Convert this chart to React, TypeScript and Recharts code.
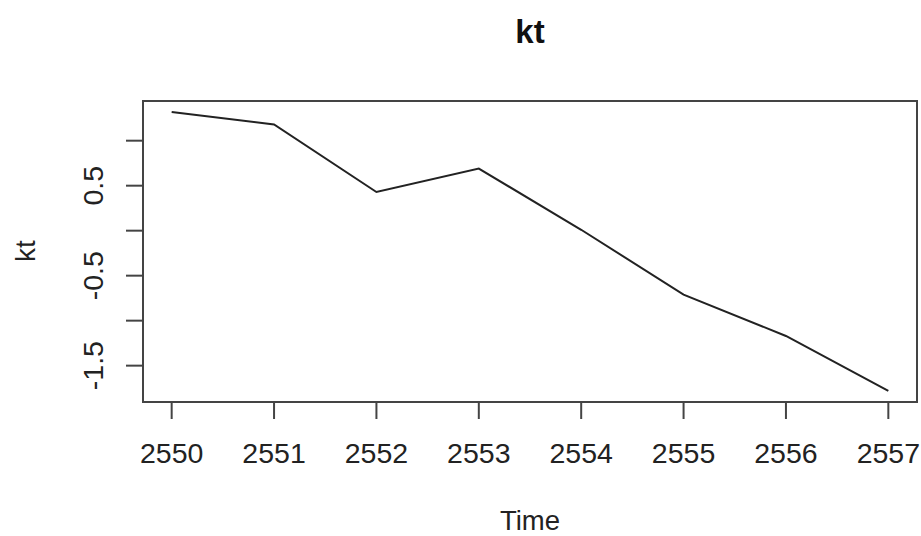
import React from 'react';
import { LineChart, Line, XAxis, YAxis, ReferenceArea } from 'recharts';

const years = [2550, 2551, 2552, 2553, 2554, 2555, 2556, 2557];
const ktValues = [1.32, 1.18, 0.43, 0.69, 0.01, -0.71, -1.17, -1.78];
const yTicks = [-1.5, -1, -0.5, 0, 0.5, 1];
const yTickLabels = ['-1.5', '-0.5', '0.5'];
const xTicks = [2550, 2551, 2552, 2553, 2554, 2555, 2556, 2557];

const chartTitle = 'kt';
const xLabel = 'Time';
const yLabel = 'kt';

const data = years.map((t, i) => ({ t, kt: ktValues[i] }));

const xDomain: [number, number] = [2549.72, 2557.28];
const yDomain: [number, number] = [-1.904, 1.441];

const FONT = '"Liberation Sans", Arial, Helvetica, sans-serif';

const XTick = (props: any) => {
  const { x, payload } = props;
  return (
    <text x={x} y={463} textAnchor="middle" fontFamily={FONT} fontSize={28.5} fill="#222">
      {String(payload.value)}
    </text>
  );
};

const YTick = (props: any) => {
  const { y, payload } = props;
  const label = String(payload.value);
  if (!yTickLabels.includes(label)) return <g />;
  return (
    <text
      x={103}
      y={y}
      textAnchor="middle"
      fontFamily={FONT}
      fontSize={28.5}
      fill="#222"
      transform={`rotate(-90, 103, ${y})`}
    >
      {label}
    </text>
  );
};

export default function App() {
  return (
    <div style={{ position: 'absolute', left: 0, top: 0, width: 921, height: 536, background: '#fff' }}>
      <LineChart
        width={921}
        height={536}
        data={data}
        margin={{ top: 101, right: 4, bottom: 0, left: 0 }}
      >
        <XAxis
          dataKey="t"
          type="number"
          domain={xDomain}
          ticks={xTicks}
          allowDataOverflow
          axisLine={false}
          tickLine={{ stroke: '#444', strokeWidth: 2 }}
          tickSize={17}
          height={134}
          tick={<XTick />}
          interval={0}
        />
        <YAxis
          type="number"
          domain={yDomain}
          ticks={yTicks}
          allowDataOverflow
          axisLine={false}
          tickLine={{ stroke: '#444', strokeWidth: 2 }}
          tickSize={17}
          width={143}
          tick={<YTick />}
          interval={0}
        />
        <ReferenceArea
          x1={xDomain[0]}
          x2={xDomain[1]}
          y1={yDomain[0]}
          y2={yDomain[1]}
          fill="none"
          fillOpacity={0}
          stroke="#444"
          strokeWidth={2}
          ifOverflow="visible"
        />
        <Line
          dataKey="kt"
          type="linear"
          stroke="#222"
          strokeWidth={2}
          dot={false}
          isAnimationActive={false}
        />
      </LineChart>
      <svg
        width={921}
        height={536}
        style={{ position: 'absolute', left: 0, top: 0, pointerEvents: 'none' }}
      >
        <text x={530} y={43} textAnchor="middle" fontFamily={FONT} fontSize={33} fontWeight="bold" fill="#111">
          {chartTitle}
        </text>
        <text x={530} y={530} textAnchor="middle" fontFamily={FONT} fontSize={27.5} fill="#222">
          {xLabel}
        </text>
        <text
          x={35}
          y={251}
          textAnchor="middle"
          fontFamily={FONT}
          fontSize={28}
          fill="#222"
          transform="rotate(-90, 35, 251)"
        >
          {yLabel}
        </text>
      </svg>
    </div>
  );
}
